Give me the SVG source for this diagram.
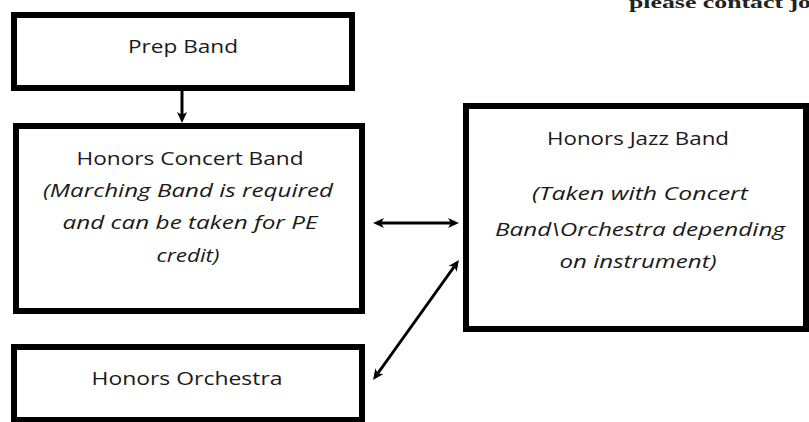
<svg xmlns="http://www.w3.org/2000/svg" width="809" height="422" viewBox="0 0 809 422">
<defs>
<style>
.box{fill:#fff;stroke:#000;stroke-width:6}
.t{font-family:"Open Sans","Liberation Sans",sans-serif;font-size:19px;fill:#1a1a1a;text-anchor:middle}
.i{font-style:italic}
.c{stroke:#000;stroke-width:3;fill:none}
</style>
<marker id="ah" viewBox="0 0 11 10" refX="3" refY="5" markerWidth="11" markerHeight="10" markerUnits="userSpaceOnUse" orient="auto-start-reverse">
<path d="M0,0 L11,5 L0,10 L3,5 z" fill="#000"/>
</marker>
</defs>
<rect width="809" height="422" fill="#fff"/>
<text x="629" y="8" font-family="Liberation Serif,serif" font-size="17" font-weight="bold" fill="#222" textLength="182" lengthAdjust="spacingAndGlyphs">please contact jo</text>
<g id="prep-band">
<rect class="box" x="14" y="15" width="338" height="73"/>
<text class="t" x="183" y="53" textLength="110" lengthAdjust="spacingAndGlyphs">Prep Band</text>
</g>
<g id="honors-concert-band">
<rect class="box" x="16" y="126" width="346" height="185"/>
<text class="t" x="190" y="165" textLength="227" lengthAdjust="spacingAndGlyphs">Honors Concert Band</text>
<text class="t i" x="188" y="197" textLength="290" lengthAdjust="spacingAndGlyphs">(Marching Band is required</text>
<text class="t i" x="190" y="229" textLength="255" lengthAdjust="spacingAndGlyphs">and can be taken for PE</text>
<text class="t i" x="188" y="262" textLength="63" lengthAdjust="spacingAndGlyphs">credit)</text>
</g>
<g id="honors-jazz-band">
<rect class="box" x="466" y="106" width="340" height="223"/>
<text class="t" x="638" y="145" textLength="182" lengthAdjust="spacingAndGlyphs">Honors Jazz Band</text>
<text class="t i" x="640" y="200" textLength="216" lengthAdjust="spacingAndGlyphs">(Taken with Concert</text>
<text class="t i" x="640" y="236" textLength="290" lengthAdjust="spacingAndGlyphs">Band\Orchestra depending</text>
<text class="t i" x="638" y="268" textLength="157" lengthAdjust="spacingAndGlyphs">on instrument)</text>
</g>
<g id="honors-orchestra">
<rect class="box" x="14" y="347" width="348" height="73"/>
<text class="t" x="187" y="385" textLength="191" lengthAdjust="spacingAndGlyphs">Honors Orchestra</text>
</g>
<g id="connectors">
<line class="c" x1="182" y1="91" x2="182" y2="115" marker-end="url(#ah)"/>
<line class="c" x1="381" y1="223" x2="451" y2="223" marker-start="url(#ah)" marker-end="url(#ah)"/>
<line class="c" x1="377.7" y1="373.5" x2="454.3" y2="266.5" marker-start="url(#ah)" marker-end="url(#ah)"/>
</g>
</svg>
